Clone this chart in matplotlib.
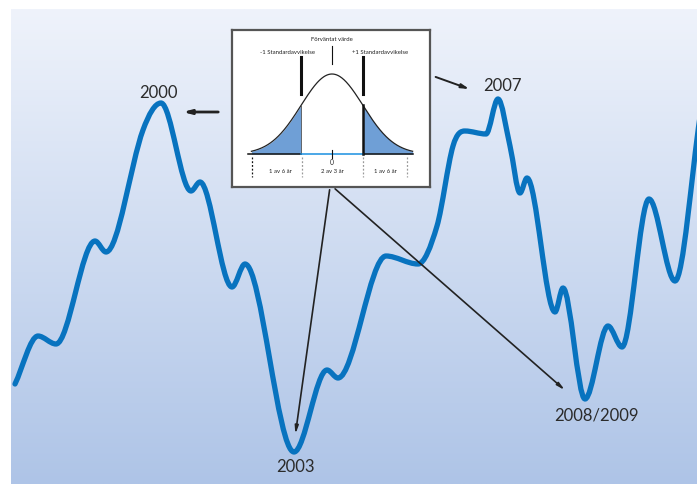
import numpy as np
import matplotlib.pyplot as plt
from matplotlib.path import Path
from matplotlib.patches import PathPatch

plt.rcParams['font.family'] = ['Lato', 'DejaVu Sans']

# market index over time (time in arbitrary units, level in index points)
t = [15, 38, 56, 95, 106, 143, 161, 191, 200, 232, 245, 294, 327, 338, 386, 418,
     437, 453, 465, 486, 498, 510, 520, 527, 555, 563, 585, 608, 622, 649, 675, 700]
level = [100, 148, 140, 243, 232, 354, 381, 293, 302, 197, 220, 32, 114, 106, 228, 220,
         258, 338, 353, 350, 385, 338, 291, 306, 172, 196, 85, 158, 137, 285, 203, 367]

labels = ['2000', '2003', '2007', '2008/2009']

# normal distribution inset
zone_text = ['1 av 6 år', '2 av 3 år', '1 av 6 år']
top_text = ['Förväntat värde', '-1 Standardavvikelse', '+1 Standardavvikelse']


def smooth_path(x, y):
    # cubic hermite through the points: flat at turning points,
    # centred slope elsewhere; drawn as bezier segments
    x = np.asarray(x, float)
    y = np.asarray(y, float)
    d = np.diff(y) / np.diff(x)
    m = np.zeros_like(x)
    m[0], m[-1] = d[0], d[-1]
    for i in range(1, len(x) - 1):
        if d[i - 1] * d[i] > 0:
            c = (y[i + 1] - y[i - 1]) / (x[i + 1] - x[i - 1])
            lim = 3 * min(abs(d[i - 1]), abs(d[i]))
            m[i] = np.sign(c) * min(abs(c), lim)
    verts = [(x[0], y[0])]
    codes = [Path.MOVETO]
    for i in range(len(x) - 1):
        h = x[i + 1] - x[i]
        verts += [(x[i] + h / 3, y[i] + m[i] * h / 3),
                  (x[i + 1] - h / 3, y[i + 1] - m[i + 1] * h / 3),
                  (x[i + 1], y[i + 1])]
        codes += [Path.CURVE4] * 3
    return Path(verts, codes)


fig = plt.figure(figsize=(6.97, 4.85), dpi=100)
ax = fig.add_axes([0, 0, 1, 1])
ax.set_xlim(0, 697)
ax.set_ylim(0, 485)
ax.axis('off')

# background gradient
grad = np.linspace(0, 1, 256).reshape(-1, 1)
top_c = np.array([239, 243, 251]) / 255
bot_c = np.array([174, 196, 231]) / 255
img = top_c * (1 - grad[..., None]) + bot_c * grad[..., None]
img = np.repeat(img, 2, axis=1)
ax.imshow(img, extent=(11, 697, 0, 475), aspect='auto', zorder=0, interpolation='bilinear')

ax.add_patch(PathPatch(smooth_path(t, level), fill=False, edgecolor='#0873bf',
                       lw=3.8, capstyle='round', joinstyle='round', zorder=2))

tc = '#2b2b2b'
ax.text(158, 392, labels[0], fontsize=12, color=tc, ha='center', va='center')
ax.text(295, 18, labels[1], fontsize=12, color=tc, ha='center', va='center')
ax.text(502, 399, labels[2], fontsize=12, color=tc, ha='center', va='center')
ax.text(596, 69, labels[3], fontsize=12, color=tc, ha='center', va='center')

ax.annotate('', xy=(180, 372), xytext=(221, 372),
            arrowprops=dict(arrowstyle='-|>,head_length=0.45,head_width=0.12', color='#222', lw=2))
ax.annotate('', xy=(472, 394), xytext=(433, 408),
            arrowprops=dict(arrowstyle='-|>,head_length=0.45,head_width=0.12', color='#222', lw=1.4))
ax.annotate('', xy=(295, 47), xytext=(330, 297),
            arrowprops=dict(arrowstyle='-|>,head_length=0.45,head_width=0.1', color='#222', lw=1.2))
ax.annotate('', xy=(567, 92), xytext=(333, 297),
            arrowprops=dict(arrowstyle='-|>,head_length=0.45,head_width=0.1', color='#222', lw=1.2))

# inset: bell curve in sigma units
ins = fig.add_axes([232 / 697, 297 / 485, 198 / 697, 157 / 485])
ins.set_xlim(-3.226, 3.161)
ins.set_ylim(-0.4125, 1.55)
ins.set_xticks([])
ins.set_yticks([])
ins.set_facecolor('white')
for s in ins.spines.values():
    s.set_color('#555555')
    s.set_linewidth(1.6)

xs = np.linspace(-2.6, 2.6, 300)
ys = np.exp(-xs ** 2 / 2)
ins.plot(xs, ys, color='#222', lw=0.9)
fill_c = '#6f9fd6'
left = xs <= -1
right = xs >= 1
ins.fill_between(xs[left], 0, ys[left], color=fill_c, lw=0)
ins.fill_between(xs[right], 0, ys[right], color=fill_c, lw=0)
ins.plot([1, 1], [0, np.exp(-0.5)], color='#111', lw=1.8)
ins.plot([-1, -1], [0, np.exp(-0.5)], color='#555', lw=0.6)

ins.plot([-2.71, -1], [0, 0], color='#111', lw=1.1)
ins.plot([-1, 1], [0, 0], color='#1a8fe0', lw=1.1)
ins.plot([1, 2.61], [0, 0], color='#111', lw=1.1)
ins.plot([0, 0], [-0.05, 0.05], color='#111', lw=0.8)

ins.plot([-1, -1], [0.75, 1.21], color='#111', lw=2.2)
ins.plot([1, 1], [0.75, 1.21], color='#111', lw=2.2)
ins.plot([0, 0], [1.125, 1.35], color='#111', lw=0.8)

for xd, c in zip([-2.58, -0.97, 1, 2.42], ['#111', '#999', '#999', '#999']):
    ins.plot([xd, xd], [-0.04, -0.29], color=c, lw=0.9, ls=(0, (1.5, 1.5)))

fs = 4.3
ins.text(0, -0.1, '0', fontsize=fs + 0.5, ha='center', va='center', color='#222')
for xt, s in zip([-1.68, 0, 1.71], zone_text):
    ins.text(xt, -0.21, s, fontsize=fs, ha='center', va='center', color='#222')
ins.text(0, 1.44, top_text[0], fontsize=fs, ha='center', va='center', color='#222')
ins.text(-1.42, 1.275, top_text[1], fontsize=fs, ha='center', va='center', color='#222')
ins.text(1.55, 1.275, top_text[2], fontsize=fs, ha='center', va='center', color='#222')

fig.savefig('out.png', dpi=100, facecolor='white')
